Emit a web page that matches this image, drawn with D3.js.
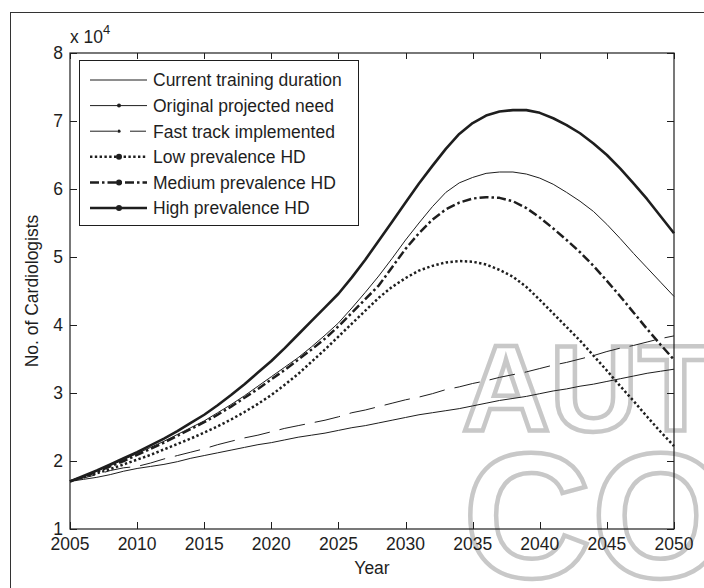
<!DOCTYPE html>
<html>
<head>
<meta charset="utf-8">
<script src="https://cdn.jsdelivr.net/npm/d3@7/dist/d3.min.js"></script>
<style>
    body { margin: 0; background: #fff; }
    svg { display: block; font-family: "Liberation Sans", Arial, Helvetica, sans-serif; }
</style>
</head>
<body>
<svg id="chart" width="704" height="588"></svg>
<script>
// values are in units of 10^4 cardiologists
var years = d3.range(2005, 2051);

var currentTraining = [1.70, 1.73, 1.76, 1.80, 1.85, 1.89, 1.92, 1.95, 1.99, 2.04,
    2.08, 2.12, 2.16, 2.20, 2.24, 2.27, 2.31, 2.35, 2.38, 2.41,
    2.45, 2.49, 2.52, 2.56, 2.60, 2.64, 2.68, 2.71, 2.74, 2.77,
    2.81, 2.85, 2.89, 2.92, 2.95, 2.99, 3.03, 3.06, 3.10, 3.13,
    3.17, 3.21, 3.25, 3.29, 3.32, 3.35];

var originalNeed = [1.70, 1.77, 1.85, 1.93, 2.02, 2.11, 2.20, 2.29, 2.39, 2.49,
    2.59, 2.71, 2.83, 2.96, 3.10, 3.24, 3.38, 3.52, 3.68, 3.85,
    4.03, 4.25, 4.48, 4.72, 4.98, 5.25, 5.50, 5.74, 5.95, 6.09,
    6.17, 6.23, 6.25, 6.25, 6.22, 6.16, 6.07, 5.95, 5.82, 5.67,
    5.48, 5.27, 5.05, 4.84, 4.63, 4.42];

var fastTrack = [1.70, 1.75, 1.80, 1.86, 1.90, 1.92, 1.97, 2.03, 2.08, 2.13,
    2.18, 2.24, 2.29, 2.34, 2.38, 2.43, 2.48, 2.52, 2.56, 2.60,
    2.65, 2.71, 2.75, 2.80, 2.85, 2.90, 2.94, 2.99, 3.05, 3.09,
    3.14, 3.18, 3.23, 3.27, 3.31, 3.36, 3.41, 3.45, 3.50, 3.55,
    3.61, 3.66, 3.70, 3.75, 3.80, 3.84];

var lowPrevalence = [1.70, 1.76, 1.82, 1.88, 1.95, 2.02, 2.09, 2.17, 2.25, 2.33,
    2.42, 2.51, 2.61, 2.72, 2.84, 2.97, 3.12, 3.28, 3.46, 3.64,
    3.83, 4.02, 4.21, 4.40, 4.56, 4.69, 4.80, 4.87, 4.92, 4.94,
    4.93, 4.89, 4.81, 4.71, 4.56, 4.37, 4.17, 3.97, 3.77, 3.55,
    3.33, 3.10, 2.88, 2.65, 2.43, 2.22];

var mediumPrevalence = [1.70, 1.77, 1.84, 1.92, 2.00, 2.09, 2.18, 2.27, 2.37, 2.47,
    2.57, 2.68, 2.80, 2.93, 3.06, 3.20, 3.34, 3.49, 3.64, 3.80,
    3.98, 4.18, 4.38, 4.58, 4.85, 5.12, 5.35, 5.55, 5.70, 5.80,
    5.86, 5.88, 5.87, 5.82, 5.72, 5.58, 5.42, 5.25, 5.07, 4.87,
    4.65, 4.42, 4.18, 3.94, 3.71, 3.49];

var highPrevalence = [1.70, 1.78, 1.86, 1.95, 2.04, 2.13, 2.23, 2.33, 2.44, 2.56,
    2.68, 2.82, 2.97, 3.13, 3.30, 3.47, 3.66, 3.86, 4.06, 4.26,
    4.46, 4.70, 4.96, 5.24, 5.52, 5.80, 6.08, 6.34, 6.59, 6.81,
    6.97, 7.08, 7.14, 7.16, 7.16, 7.12, 7.04, 6.94, 6.82, 6.67,
    6.50, 6.30, 6.08, 5.85, 5.60, 5.35];

var seriesNames = ['Current training duration', 'Original projected need', 'Fast track implemented',
    'Low prevalence HD', 'Medium prevalence HD', 'High prevalence HD'];

var xTicks = [2005, 2010, 2015, 2020, 2025, 2030, 2035, 2040, 2045, 2050];
var yTicks = [1, 2, 3, 4, 5, 6, 7, 8];

var series = [currentTraining, originalNeed, fastTrack, lowPrevalence, mediumPrevalence, highPrevalence];

// line look for each series (same order as seriesNames)
var styles = [
    { width: 1, dash: null, legendDash: null, marker: 0 },
    { width: 1, dash: null, legendDash: null, marker: 2 },
    { width: 1, dash: '26,10', legendDash: '27,13,16', marker: 1.6 },
    { width: 2.5, dash: '2.4,2.4', legendDash: '2.4,2.4', marker: 3 },
    { width: 2.5, dash: '9,3,2.5,3', legendDash: '9,3,2.5,3', marker: 3 },
    { width: 2.6, dash: null, legendDash: null, marker: 3 }
];

var margin = { top: 53, right: 30, bottom: 59, left: 70 },
    width = 704,
    height = 588,
    ink = '#1e1e1e';

var svg = d3.select('#chart');

// outer figure frame (runs off the right and bottom of the picture)
svg.append('rect')
    .attr('x', 10.5)
    .attr('y', 12.5)
    .attr('width', 800)
    .attr('height', 800)
    .attr('fill', 'none')
    .attr('stroke', '#333')
    .attr('stroke-width', 1);

// watermark
var wm = svg.append('g')
    .attr('fill', 'none')
    .attr('stroke', '#c8c8c8')
    .attr('stroke-width', 4.5)
    .attr('stroke-linejoin', 'miter')
    .attr('font-weight', 'bold');
wm.append('text').attr('x', 462).attr('y', 431).attr('font-size', 122).text('AUT');
wm.append('text').attr('x', 463).attr('y', 577).attr('font-size', 178).text('CO');

var x = d3.scaleLinear()
    .domain([2005, 2050])
    .range([margin.left, width - margin.right]);

var y = d3.scaleLinear()
    .domain([1, 8])
    .range([height - margin.bottom, margin.top]);

var x0 = x.range()[0], x1 = x.range()[1],
    y0 = y.range()[0], y1 = y.range()[1];

// ticks pointing inward on all four sides
var ticks = svg.append('g').attr('stroke', ink).attr('stroke-width', 1);
xTicks.forEach(function (t) {
    var px = Math.round(x(t)) + 0.5;
    ticks.append('line').attr('x1', px).attr('x2', px).attr('y1', y0).attr('y2', y0 - 7);
    ticks.append('line').attr('x1', px).attr('x2', px).attr('y1', y1).attr('y2', y1 + 6);
});
yTicks.forEach(function (t) {
    var py = Math.round(y(t)) + 0.5;
    ticks.append('line').attr('x1', x0).attr('x2', x0 + 7).attr('y1', py).attr('y2', py);
    ticks.append('line').attr('x1', x1).attr('x2', x1 - 7).attr('y1', py).attr('y2', py);
});

// data lines
var line = d3.line()
    .x(function (d, i) { return x(years[i]); })
    .y(function (d) { return y(d); });

svg.append('g')
    .selectAll('path')
    .data(series)
    .enter()
    .append('path')
    .attr('d', line)
    .attr('fill', 'none')
    .attr('stroke', ink)
    .attr('stroke-width', function (d, i) { return styles[i].width; })
    .attr('stroke-dasharray', function (d, i) { return styles[i].dash; })
    .attr('stroke-linejoin', 'round');

// axes box
svg.append('rect')
    .attr('x', x0)
    .attr('y', y1)
    .attr('width', x1 - x0)
    .attr('height', y0 - y1)
    .attr('fill', 'none')
    .attr('stroke', ink)
    .attr('stroke-width', 1.2);

// tick labels
var labels = svg.append('g').attr('fill', ink).attr('font-size', 17.5);
xTicks.forEach(function (t) {
    labels.append('text')
        .attr('x', x(t))
        .attr('y', y0 + 21)
        .attr('text-anchor', 'middle')
        .text(t);
});
yTicks.forEach(function (t) {
    labels.append('text')
        .attr('x', x0 - 7)
        .attr('y', y(t))
        .attr('dy', '0.36em')
        .attr('text-anchor', 'end')
        .text(t);
});

// exponent above the y axis
var expo = labels.append('text').attr('x', x0).attr('y', 43);
expo.append('tspan').text('x 10');
expo.append('tspan').attr('dy', -9).attr('font-size', 13).text('4');

labels.append('text')
    .attr('x', (x0 + x1) / 2)
    .attr('y', 574)
    .attr('text-anchor', 'middle')
    .text('Year');

labels.append('text')
    .attr('transform', 'translate(38,' + (y0 + y1) / 2 + ') rotate(-90)')
    .attr('text-anchor', 'middle')
    .text('No. of Cardiologists');

// legend
var legend = svg.append('g');
legend.append('rect')
    .attr('x', 79.5)
    .attr('y', 60.5)
    .attr('width', 279)
    .attr('height', 165)
    .attr('fill', '#fff')
    .attr('stroke', ink)
    .attr('stroke-width', 1);

var rows = legend.selectAll('g.row')
    .data(seriesNames)
    .enter()
    .append('g')
    .attr('class', 'row')
    .attr('transform', function (d, i) { return 'translate(0,' + (80 + i * 25.6) + ')'; });

rows.append('line')
    .attr('x1', 90)
    .attr('x2', 147)
    .attr('stroke', ink)
    .attr('stroke-width', function (d, i) { return styles[i].width; })
    .attr('stroke-dasharray', function (d, i) { return styles[i].legendDash; });

rows.filter(function (d, i) { return styles[i].marker > 0; })
    .append('circle')
    .attr('cx', 119)
    .attr('r', function (d) { return styles[seriesNames.indexOf(d)].marker; })
    .attr('fill', ink);

rows.append('text')
    .attr('x', 153)
    .attr('dy', '0.36em')
    .attr('font-size', 17.5)
    .attr('fill', ink)
    .text(function (d) { return d; });
</script>
</body>
</html>
